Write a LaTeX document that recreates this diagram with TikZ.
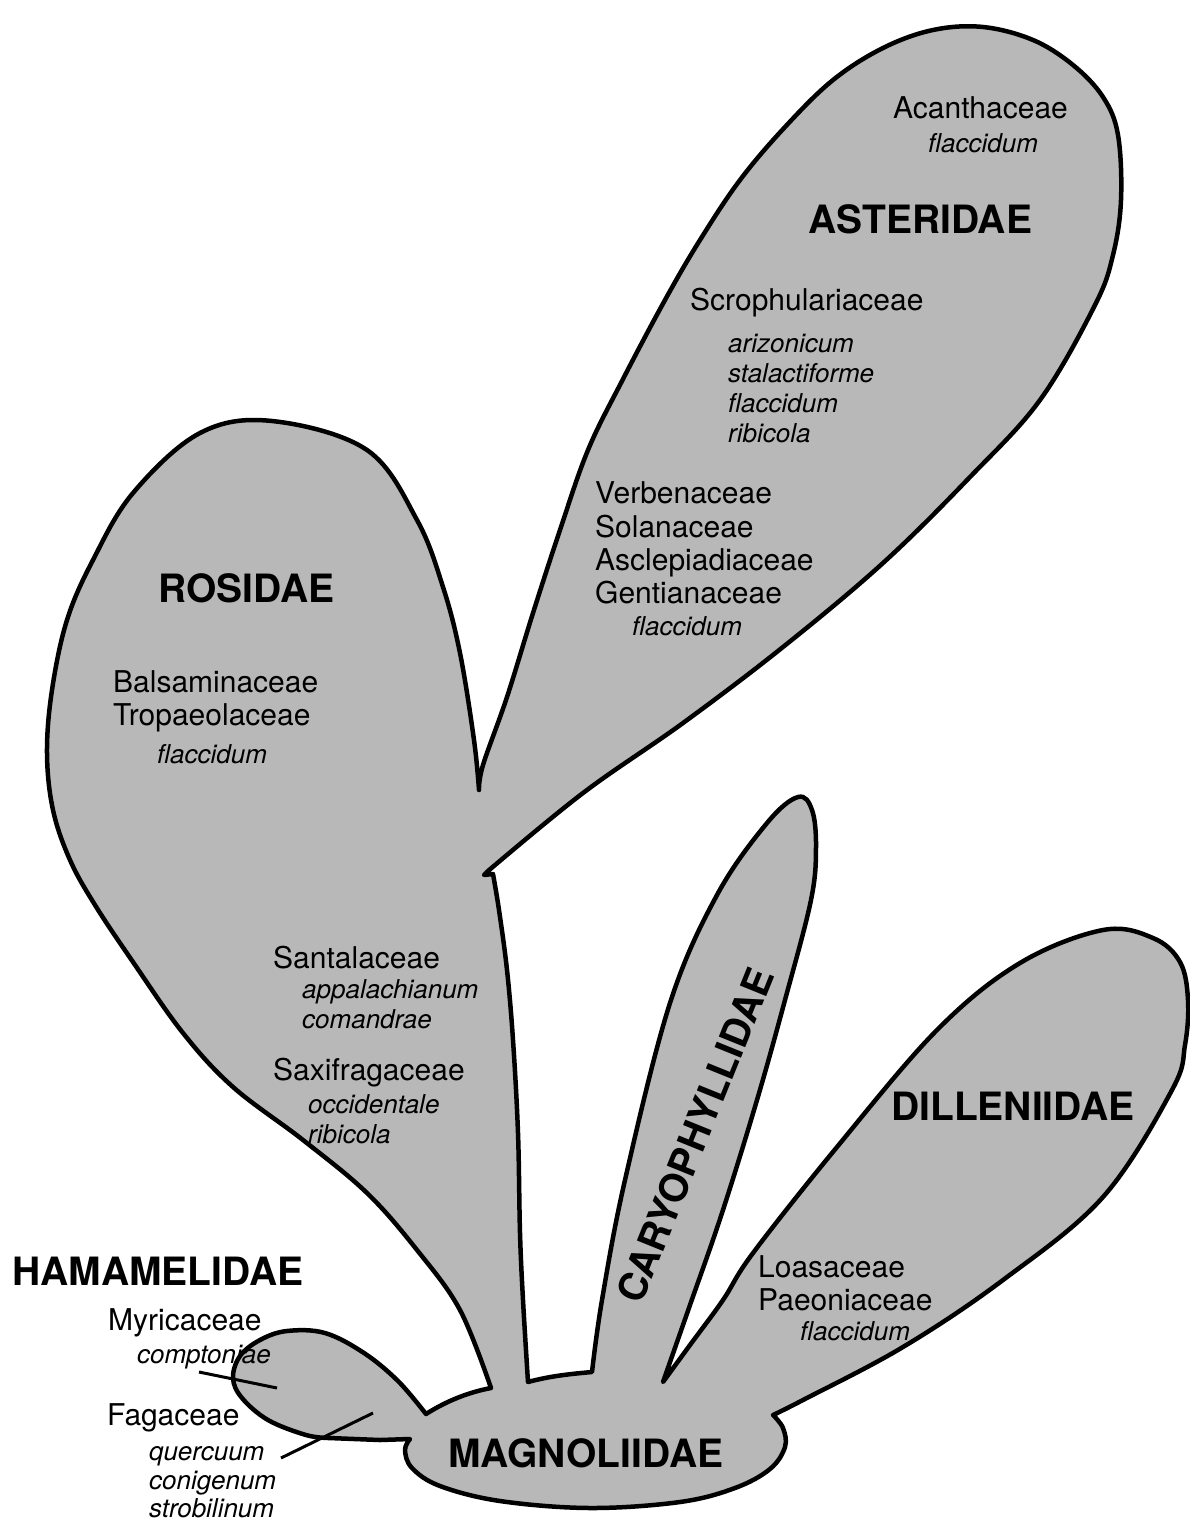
\documentclass[tikz,border=0pt]{standalone}
\usepackage{fontspec}
\setmainfont{TeX Gyre Heros}
\definecolor{shade}{gray}{0.72}
\begin{document}
\begin{tikzpicture}[x=1pt,y=-1pt,
  reg/.style={font=\fontsize{30}{33}\selectfont, inner sep=0pt, anchor=base west},
  ital/.style={font=\fontsize{26}{29}\selectfont\itshape, inner sep=0pt, anchor=base west},
  big/.style={font=\fontsize{39}{42}\selectfont\bfseries, inner sep=0pt, anchor=base west},
  outline/.style={line width=4.5pt, fill=shade, draw=black, line join=round},
  leader/.style={line width=3pt}]
\useasboundingbox (0,0) rectangle (1190,1521);
% the whole outline
\draw[outline] (426,1414) .. controls (448,1400) and (470,1392) .. (491,1388)
 -- plot[smooth, tension=0.6] coordinates {(491,1388) (460,1310) (417,1250) (367,1193) (303,1140) (233,1087) (183,1033) (133,962) (95,905) (70,860) (53,810) (47,753) (52,690) (67,620) (93,560) (133,493) (200,433) (272,421) (367,450) (417,520) (443,587) (460,653) (474,740) (479,790)}
 -- plot[smooth, tension=0.6] coordinates {(479,790) (483,765) (507,697) (533,613) (560,530) (588,450) (622,381) (665,300) (700,240) (740,180) (785,127) (833,80) (883,48) (933,30) (983,27) (1033,40) (1073,65) (1103,97) (1118,135) (1121,200) (1113,255) (1095,305) (1040,400) (970,477) (883,563) (783,647) (683,723) (583,793) (488,871)}
 -- (484,875) -- (493,874)
 -- plot[smooth, tension=0.6] coordinates {(493,874) (499,910) (507,970) (513,1040) (518,1133) (520,1233) (523,1300) (528,1382)}
 .. controls (550,1376) and (570,1374) .. (592,1372)
 -- plot[smooth, tension=0.6] coordinates {(592,1372) (602,1300) (625,1180) (670,1003) (717,895) (767,823) (798,797) (812,810) (816,847) (811,900) (785,1000) (757,1100) (722,1213) (690,1305) (663,1382)}
 -- plot[smooth, tension=0.6] coordinates {(663,1382) (690,1345) (723,1300) (753,1253) (837,1147) (937,1030) (1020,963) (1103,930) (1153,938) (1180,962) (1188,1000) (1185,1045) (1172,1090) (1103,1197) (1003,1280) (903,1347) (803,1400) (773,1415)}
 -- plot[smooth, tension=0.6] coordinates {(773,1415) (783,1428) (785,1447) (770,1469) (735,1488) (680,1502) (590,1508) (500,1501) (440,1486) (412,1468) (405,1450) (410,1439)}
 -- (380,1440) -- (329,1438)
 -- plot[smooth, tension=0.6] coordinates {(329,1438) (306,1435) (268,1420) (242,1398) (233,1378) (240,1356) (260,1340) (287,1331) (325,1333) (364,1353) (398,1381) (426,1414)}
 -- cycle;
% leader lines
\coordinate (l1a) at (199,1372);
\coordinate (l1b) at (277,1388);
\coordinate (l2a) at (281,1458);
\coordinate (l2b) at (373,1413);
\draw[leader] (l1a) -- (l1b);
\draw[leader] (l2a) -- (l2b);
% Asteridae
\node[reg] (acan) at (893,118) {Acanthaceae};
\node[ital] (acanf) at (928,152) {flaccidum};
\node[big] (aster) at (808,233) {ASTERIDAE};
\node[reg] (scro) at (690,310) {Scrophulariaceae};
\node[ital] (ariz) at (728,352) {arizonicum};
\node[ital] (stal) at (728,382) {stalactiforme};
\node[ital] (flac2) at (728,412) {flaccidum};
\node[ital] (ribi1) at (728,442) {ribicola};
\node[reg] (verb) at (595,503) {Verbenaceae};
\node[reg] (sola) at (595,537) {Solanaceae};
\node[reg] (ascl) at (595,570) {Asclepiadiaceae};
\node[reg] (gent) at (595,603) {Gentianaceae};
\node[ital] (flac3) at (632,635) {flaccidum};
% Rosidae
\node[big] (rosi) at (158,602) {ROSIDAE};
\node[reg] (bals) at (113,692) {Balsaminaceae};
\node[reg] (trop) at (113,725) {Tropaeolaceae};
\node[ital] (flac4) at (157,763) {flaccidum};
\node[reg] (sant) at (273,968) {Santalaceae};
\node[ital] (appa) at (302,998) {appalachianum};
\node[ital] (coma) at (302,1028) {comandrae};
\node[reg] (saxi) at (273,1080) {Saxifragaceae};
\node[ital] (occi) at (308,1113) {occidentale};
\node[ital] (ribi2) at (308,1143) {ribicola};
% Caryophyllidae, Dilleniidae
\node[big, anchor=center, rotate=68] (cary) at (695,1135) {CARYOPHYLLIDAE};
\node[big] (dill) at (891,1120) {DILLENIIDAE};
\node[reg] (loas) at (758,1277) {Loasaceae};
\node[reg] (paeo) at (758,1310) {Paeoniaceae};
\node[ital] (flac5) at (800,1340) {flaccidum};
% Hamamelidae
\node[big] (hama) at (12,1285) {HAMAMELIDAE};
\node[reg] (myri) at (108,1330) {Myricaceae};
\node[ital] (comp) at (137,1363) {comptoniae};
\node[reg] (faga) at (107,1425) {Fagaceae};
\node[ital] (quer) at (149,1460) {quercuum};
\node[ital] (coni) at (149,1489) {conigenum};
\node[ital] (stro) at (149,1517) {strobilinum};
% Magnoliidae
\node[big] (magn) at (448,1467) {MAGNOLIIDAE};
\end{tikzpicture}
\end{document}
